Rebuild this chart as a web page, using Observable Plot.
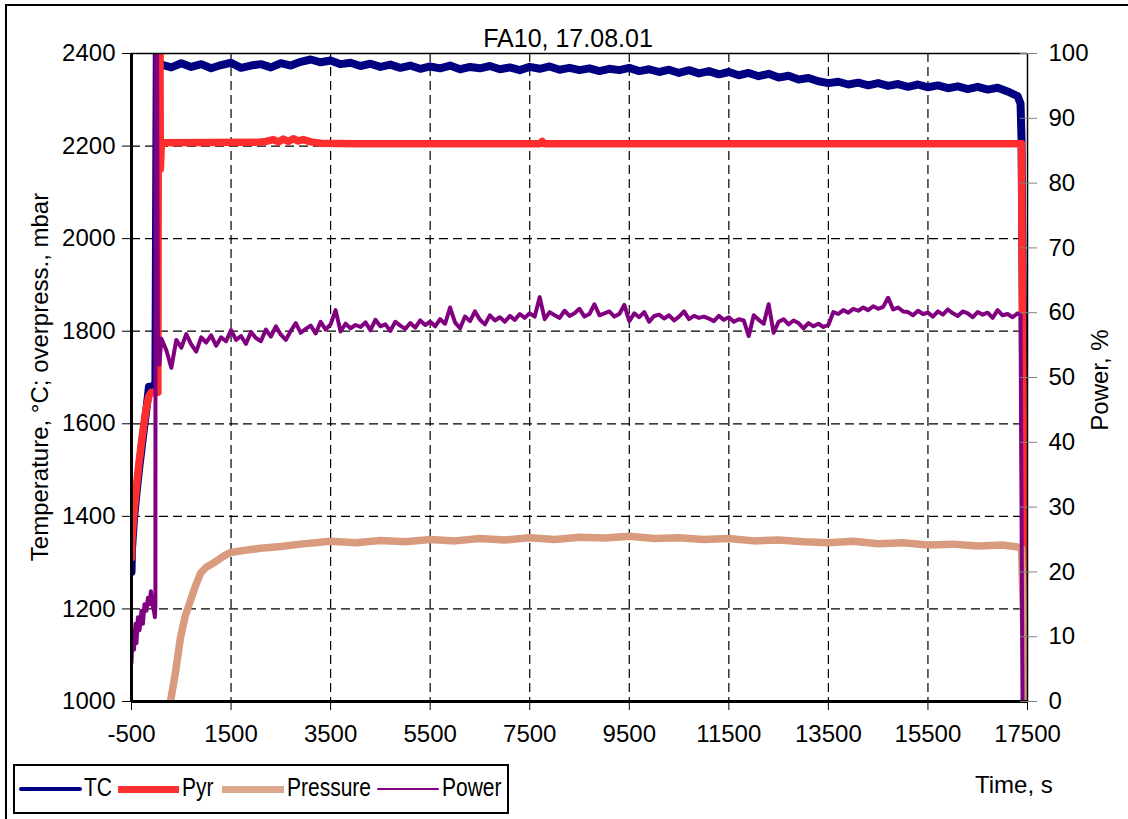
<!DOCTYPE html>
<html>
<head>
<meta charset="utf-8">
<script src="https://cdn.jsdelivr.net/npm/d3@7"></script>
<script src="https://cdn.jsdelivr.net/npm/@observablehq/plot@0.6"></script>
<style>
html, body { margin:0; padding:0; overflow:hidden; background:#fff; width:1128px; height:819px; }
body { position:relative; font-family:"Liberation Sans", Arial, sans-serif; color:#000; }
#chart { position:absolute; left:0; top:0; }
.abs { position:absolute; white-space:nowrap; line-height:1; }
</style>
</head>
<body>
<svg width="0" height="0" style="position:absolute">
  <defs>
    <pattern id="pyrPat" patternUnits="userSpaceOnUse" width="2" height="2">
      <rect x="0" y="0" width="2" height="2" fill="#ff0000"></rect>
      <rect x="0" y="0" width="1" height="1" fill="#ffb8b8"></rect>
    </pattern>
    <pattern id="presPat" patternUnits="userSpaceOnUse" width="2" height="2">
      <rect x="0" y="0" width="2" height="2" fill="#f8dccb"></rect>
      <rect x="0" y="0" width="1" height="1" fill="#b85a30"></rect>
      <rect x="1" y="1" width="1" height="1" fill="#b85a30"></rect>
    </pattern>
  </defs>
</svg>
<div id="chart"></div>
<div class="abs" style="left:468px;top:26px;width:200px;text-align:center;font-size:25px;">FA10, 17.08.01</div>
<div class="abs" id="ylab" style="left:40px;top:377px;font-size:24px;transform:translate(-50%,-50%) rotate(-90deg);">Temperature, °C; overpress., mbar</div>
<div class="abs" id="y2lab" style="left:1100px;top:380px;font-size:24px;transform:translate(-50%,-50%) rotate(-90deg);">Power, %</div>
<div class="abs" style="left:975px;top:773px;font-size:24px;">Time, s</div>
<div id="legend"></div>
<div style="position:absolute;left:5px;top:4px;width:1300px;height:1000px;border:2px solid #000;pointer-events:none;"></div>
<script>
// ---------- tick labels / axes ----------
const xTicks = [-500, 1500, 3500, 5500, 7500, 9500, 11500, 13500, 15500, 17500];
const xGrid = [1500, 3500, 5500, 7500, 9500, 11500, 13500, 15500];
const yTicks = [1000, 1200, 1400, 1600, 1800, 2000, 2200, 2400];
const yGrid = [1200, 1400, 1600, 1800, 2000, 2200];
const powerTicks = [0, 10, 20, 30, 40, 50, 60, 70, 80, 90, 100];
const seriesNames = ["TC", "Pyr", "Pressure", "Power"];

// ---------- TC (°C) ----------
const tcEarly = [[-500,1280],[-490,1330],[-470,1362],[-450,1395],[-400,1450],[-350,1500],[-300,1545],[-250,1590],[-200,1632],[-160,1670],[-150,1680],[-60,1680],[-20,1690],[10,2450],[40,2450],[60,2380]];
const tcStart = 100, tcStep = 200;
const tcSteady = [
  2376,2370,2379,2371,2377,2368,2375,2380,2369,2374,
  2377,2370,2379,2374,2382,2387,2381,2385,2377,2380,
  2373,2378,2371,2376,2369,2374,2367,2372,2368,2374,
  2366,2371,2368,2373,2366,2370,2364,2371,2367,2372,
  2365,2369,2364,2368,2362,2367,2364,2369,2362,2366,
  2360,2365,2358,2364,2357,2362,2355,2360,2353,2358,
  2351,2356,2348,2352,2344,2347,2340,2336,2339,2333,
  2337,2331,2336,2330,2334,2328,2333,2327,2331,2325,
  2329,2323,2328,2322,2326,2318,2308
];
const tcEnd = [[17360,2292],[17380,2216],[17460,1100],[17490,1000]];

// ---------- Pyr (°C) ----------
const pyrPts = [[-500,1310],[-490,1350],[-470,1380],[-440,1420],[-400,1465],[-350,1515],[-300,1560],[-250,1600],[-200,1635],[-150,1660],[-100,1668],[30,1668],[40,2450],[70,2450],[80,2150],[100,2207],
  [2000,2208],[2200,2210],[2350,2214],[2450,2209],[2550,2215],[2650,2210],[2750,2216],[2850,2211],[2950,2214],[3100,2209],[3300,2206],[4000,2205],
  [7700,2205],[7750,2210],[7800,2205],[17380,2205],[17400,1800],[17440,1300],[17470,1000]];

// ---------- Pressure (mbar) ----------
const presPts = [[283,1000],[380,1060],[484,1138],[580,1185],[685,1218],[786,1250],[886,1277],[1000,1290],[1188,1302],[1350,1314],[1489,1322],[1800,1327],[2092,1331],[2500,1335],[2895,1340],
  [3500,1346],[4000,1343],[4500,1348],[5000,1345],[5500,1350],[6000,1347],[6500,1352],[7000,1349],[7500,1354],[8000,1350],[8500,1355],[9000,1353],[9500,1357],[10000,1352],[10500,1354],
  [11000,1350],[11500,1352],[12000,1347],[12500,1349],[13000,1345],[13500,1343],[14000,1346],[14500,1341],[15000,1343],[15500,1338],[16000,1340],[16500,1336],[17000,1338],[17300,1334],
  [17380,1330],[17420,1180],[17460,1000]];

// ---------- Power (%) ----------
const powerEarly = [[-500,6],[-480,11],[-450,8],[-420,12],[-400,9],[-370,13],[-340,11],[-300,14],[-270,12],[-240,15],[-200,14],[-170,16],[-140,15],[-110,17],[-80,15],[-50,14],[-30,13],[-20,15],[-15,110],[10,110],[30,57],[60,52]];
const powerStart = 100, powerStep = 100;
const powerSteady = [
  56.0,54.2,51.5,55.8,54.6,56.7,55.1,54.0,56.2,55.4,
  56.5,54.9,56.2,55.6,57.3,55.8,56.4,55.2,57.0,56.1,
  55.6,57.4,56.3,57.9,56.6,55.8,57.2,58.4,56.9,57.5,
  58.0,56.8,58.6,57.4,58.2,60.4,57.1,58.3,57.6,58.1,
  57.8,58.5,57.3,58.9,57.9,58.2,57.2,58.6,58.0,57.5,
  58.4,57.7,58.8,58.1,58.6,57.9,59.0,58.3,60.8,58.5,
  57.6,59.4,58.7,60.2,58.9,58.2,59.6,58.8,59.3,58.6,
  59.5,58.9,59.8,59.2,59.9,59.4,62.4,59.0,60.1,59.6,
  59.2,60.3,59.5,59.9,60.6,59.4,59.8,61.3,59.6,59.9,
  60.2,59.4,59.8,61.2,58.7,59.9,59.3,60.1,58.6,59.5,
  59.7,59.1,59.6,58.8,59.4,60.2,59.0,59.5,59.2,59.4,
  59.1,58.7,59.5,58.9,59.3,58.6,59.0,58.8,56.4,59.6,
  58.9,58.3,61.3,56.9,58.6,59.0,58.2,58.8,58.4,57.6,
  58.4,57.9,58.3,57.8,58.1,
  60.1,59.8,60.4,60.0,60.6,
  60.3,60.8,60.4,61.0,60.6,60.9,62.3,60.5,60.8,60.2,
  60.1,59.6,60.3,59.8,60.0,59.4,60.2,59.7,60.5,59.9,
  59.5,60.2,59.9,59.3,60.1,59.7,60.0,59.2,60.4,59.6,
  59.8,59.3,59.9
];
const powerEnd = [[17360,59.6],[17400,0]];

// ---------- build tables ----------
const pairs = a => a.map(([t, v]) => ({t, v}));
const tc = [...pairs(tcEarly), ...tcSteady.map((v, i) => ({t: tcStart + i * tcStep, v})), ...pairs(tcEnd)];
const pyr = pairs(pyrPts);
const pres = pairs(presPts);
const power = [...pairs(powerEarly), ...powerSteady.map((v, i) => ({t: powerStart + i * powerStep, v})), ...pairs(powerEnd)];

// secondary (power) axis mapped onto the primary scale: 0..100 % <-> 1000..2400
const pY = p => 1000 + p * 14;

const chart = Plot.plot({
  width: 1128,
  height: 745,
  marginLeft: 131,
  marginRight: 101,
  marginTop: 53,
  marginBottom: 44,
  x: {domain: [-500, 17500]},
  y: {domain: [1000, 2400]},
  style: {fontFamily: '"Liberation Sans", Arial, sans-serif', fontSize: "24px", background: "transparent", color: "#000", overflow: "visible"},
  marks: [
    Plot.ruleX(xGrid, {stroke: "#000", strokeWidth: 1.2, strokeDasharray: "9,5"}),
    Plot.ruleY(yGrid, {stroke: "#000", strokeWidth: 1.2, strokeDasharray: "9,5"}),
    Plot.line(tc, {x: "t", y: "v", stroke: "#000080", strokeWidth: 8, strokeLinejoin: "round", clip: true}),
    Plot.line(pyr, {x: "t", y: "v", stroke: "url(#pyrPat)", strokeWidth: 7.5, clip: true}),
    Plot.line(pres, {x: "t", y: "v", stroke: "url(#presPat)", strokeWidth: 7.5, clip: true}),
    Plot.line(power, {x: "t", y: d => pY(d.v), stroke: "#800080", strokeWidth: 4, strokeLinejoin: "round", clip: true}),
    Plot.ruleX([17500], {stroke: "#000", strokeWidth: 1.5}),
    Plot.ruleY([2400], {stroke: "#000", strokeWidth: 1.5}),
    Plot.ruleX([-500], {stroke: "#000", strokeWidth: 3}),
    Plot.ruleY([1000], {stroke: "#000", strokeWidth: 3}),
    Plot.axisX({ticks: xTicks, tickSize: 9, tickPadding: 14, tickFormat: d => String(d), label: null, stroke: "#000"}),
    Plot.axisY({ticks: yTicks, tickSize: 9, tickPadding: 7, tickFormat: d => String(d), label: null, stroke: "#000"}),
    Plot.axisY({anchor: "right", ticks: powerTicks.map(pY), tickFormat: d => String(Math.round((d - 1000) / 14)), tickSize: 17, dx: -8, tickPadding: 12, label: null, stroke: "#808080"})
  ]
});
document.getElementById("chart").appendChild(chart);

// ---------- legend ----------
const leg = d3.select("#legend").append("svg")
  .attr("width", 520).attr("height", 69)
  .style("position", "absolute").style("left", "0px").style("top", "750px")
  .style("font-family", '"Liberation Sans", Arial, sans-serif');
leg.append("rect").attr("x", 14).attr("y", 15).attr("width", 494).attr("height", 48)
  .attr("fill", "#fff").attr("stroke", "#000").attr("stroke-width", 2);
const legItems = [
  {name: seriesNames[0], x1: 21, x2: 80, tx: 84, color: "#000080", w: 4, kind: "line"},
  {name: seriesNames[1], x1: 118, x2: 179, tx: 182, color: "#ff3030", w: 7, kind: "rect"},
  {name: seriesNames[2], x1: 222, x2: 284, tx: 287, color: "#dca88c", w: 7, kind: "rect"},
  {name: seriesNames[3], x1: 378, x2: 438, tx: 442, color: "#800080", w: 2, kind: "line"}
];
for (const it of legItems) {
  if (it.kind === "line") {
    leg.append("line").attr("x1", it.x1).attr("x2", it.x2).attr("y1", 39).attr("y2", 39)
      .attr("stroke", it.color).attr("stroke-width", it.w).attr("stroke-linecap", "round");
  } else {
    leg.append("rect").attr("x", it.x1).attr("y", 36).attr("width", it.x2 - it.x1).attr("height", it.w)
      .attr("fill", it.color);
  }
  leg.append("text").attr("transform", `translate(${it.tx},46) scale(1,1.2)`)
    .attr("font-size", 21).attr("fill", "#000").text(it.name);
}
</script>
</body>
</html>
